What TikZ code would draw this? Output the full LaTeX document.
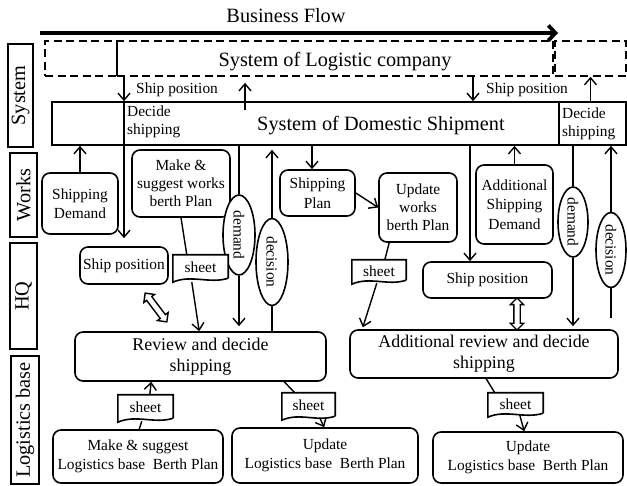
\documentclass[tikz,border=0pt]{standalone}
\usepackage{fontspec}
\setmainfont{Liberation Serif}
\usetikzlibrary{arrows.meta,shapes.geometric,shapes.arrows,calc}
\newcommand\myfs{\fontsize{15.4}{19.5}\selectfont}
\newcommand\myfst{\fontsize{15.4}{18}\selectfont}
\newcommand\myfm{\fontsize{17.9}{21}\selectfont}
\newcommand\myfl{\fontsize{20.3}{24}\selectfont}
\begin{document}
\begin{tikzpicture}[x=1pt,y=-1pt,
  box/.style={draw, line width=1.6pt, rounded corners=8pt, align=center, inner sep=0pt, font=\myfs, fill=white},
  sheetn/.style={inner sep=0pt, font=\myfs, fill=white},
  oval/.style={draw, ellipse, line width=1.6pt, inner sep=0pt, font=\myfs, fill=white},
  lane/.style={draw, line width=1.7pt, inner sep=0pt, font=\myfl},
  dbox/.style={draw, line width=1.6pt, dash pattern=on 8pt off 4.5pt, inner sep=0pt},
  lbl/.style={inner sep=0pt, font=\myfs},
  con/.style={line width=1.4pt},
  arr/.style={con, -{Straight Barb[length=7pt,width=12pt]}},
  hollow/.style={draw, double arrow, line width=1.4pt, fill=white, inner sep=2.5pt, double arrow head extend=3.5pt}
]
\useasboundingbox (0,0) rectangle (627,486);

% business flow
\node[font=\myfl, anchor=base, inner sep=0pt] (bft) at (286,23) {Business Flow};
\coordinate (bfs) at (40,33);
\coordinate (bfe) at (558,33);
\draw[line width=3.8pt,-{Straight Barb[length=7pt,width=15pt]}] (bfs) -- (bfe);

% lanes
\node[lane, minimum width=25pt, minimum height=103pt] (lsys) at (20.5,95.5) {\rotatebox{90}{System}};
\node[lane, minimum width=27pt, minimum height=84pt] (lwrk) at (23.5,195) {\rotatebox{90}{Works}};
\node[lane, minimum width=27pt, minimum height=106pt] (lhq) at (23.5,296) {\rotatebox{90}{HQ}};
\node[lane, minimum width=28pt, minimum height=128pt] (llog) at (25,420) {\rotatebox{90}{Logistics base}};

% logistic company system (dashed)
\node[dbox, minimum width=72pt, minimum height=35pt] (lcA) at (81,58.5) {};
\node[dbox, minimum width=436pt, minimum height=35pt] (lcB) at (335,58.5) {};
\node[dbox, minimum width=71pt, minimum height=35pt] (lcC) at (590.5,58.5) {};
\node[font=\myfl, anchor=base, inner sep=0pt] (lcT) at (335,67) {System of Logistic company};

% domestic shipment system
\node[draw, line width=1.6pt, minimum width=574pt, minimum height=43pt, inner sep=0pt] (ds) at (339,123.5) {};
\node[font=\myfl, anchor=base, inner sep=0pt] (dsT) at (381,131) {System of Domestic Shipment};
\draw[line width=1.6pt] ($(ds.north east)+(-68,0)$) -- ($(ds.south east)+(-68,0)$);

\node[lbl, anchor=base west] (spl1) at (136,94) {Ship position};
\node[lbl, anchor=base west] (dl1) at (127,117) {Decide};
\node[lbl, anchor=base west] (dl2) at (127,135) {shipping};
\node[lbl, anchor=base west] (spl2) at (486,94) {Ship position};
\node[lbl, anchor=base west] (dl3) at (562,119) {Decide};
\node[lbl, anchor=base west] (dl4) at (562,137) {shipping};

% works lane
\node[box, minimum width=76pt, minimum height=61pt] (sd) at (80,203.5) {Shipping\\Demand};
\node[box, minimum width=98pt, minimum height=67pt, font=\myfst] (mk) at (181,183.5) {Make \&\\suggest works\\berth Plan};
\node[oval, minimum width=32pt, minimum height=80pt] (dem1) at (239,235) {\rotatebox{-90}{demand}};
\node[oval, minimum width=32pt, minimum height=87pt] (dec1) at (272,262) {\rotatebox{-90}{decision}};
\node[box, minimum width=75pt, minimum height=46pt] (sp) at (317.5,193) {Shipping\\Plan};
\node[box, minimum width=78pt, minimum height=69pt, font=\myfst] (uw) at (418,207.5) {Update\\works\\berth Plan};
\node[box, minimum width=77pt, minimum height=79pt] (asd) at (514.5,204.5) {Additional\\Shipping\\Demand};
\node[oval, minimum width=30pt, minimum height=70pt] (dem2) at (573,222) {\rotatebox{-90}{demand}};
\node[oval, minimum width=30pt, minimum height=75pt] (dec2) at (611,250) {\rotatebox{-90}{decision}};

% HQ lane
\node[box, minimum width=88pt, minimum height=37pt] (shp1) at (124,265.5) {Ship position};
\node[sheetn, minimum width=55pt, minimum height=25pt] (sh1) at (200.5,267.5) {sheet};
\node[sheetn, minimum width=54pt, minimum height=22pt] (sh2) at (379,271) {sheet};
\node[box, minimum width=129pt, minimum height=36pt] (shp2) at (487.5,280) {Ship position};
\node[box, minimum width=251pt, minimum height=49pt, font=\myfm] (rv) at (200.5,356.5) {Review and decide\\shipping};
\node[box, minimum width=268pt, minimum height=48pt, font=\myfm] (rv2) at (484,354) {Additional review and decide\\shipping};
\node[hollow, minimum height=36pt, rotate=-53] (dh1) at (156,307.5) {};
\node[hollow, minimum height=32pt, rotate=90] (dh2) at (517,314) {};

% logistics base lane
\node[sheetn, minimum width=55pt, minimum height=25pt] (sh3) at (145.5,407.5) {sheet};
\node[sheetn, minimum width=53pt, minimum height=25pt] (sh4) at (308.5,405.5) {sheet};
\node[sheetn, minimum width=55pt, minimum height=22pt] (sh5) at (515.5,404) {sheet};
\node[box, minimum width=170pt, minimum height=53pt] (mkl) at (138,456.5) {Make \& suggest\\Logistics base\ \ Berth Plan};
\node[box, minimum width=186pt, minimum height=55pt] (up1) at (325,455.5) {Update\\Logistics base\ \ Berth Plan};
\node[box, minimum width=190pt, minimum height=51pt] (up2) at (528,457.5) {Update\\Logistics base\ \ Berth Plan};

% sheet outlines
\foreach \s in {sh1,sh2,sh3,sh4,sh5}
  \draw[line width=1.6pt] ($(\s.south east)+(0,-2)$) -- (\s.north east) -- (\s.north west) -- ($(\s.south west)+(0,2)$) .. controls +(18,-8) and +(-18,6) .. ($(\s.south east)+(0,-2)$);

% system-level connectors
\draw[arr] (lcB.south -| shp1.north) -- (ds.north -| shp1.north);
\draw[arr, shorten >=8pt] (ds.north -| shp1.north) -- (shp1.north);
\coordinate (ua) at (245,110);
\draw[arr, shorten >=6pt] (ua) -- (lcB.south -| ua);
\coordinate (da) at (473,0);
\draw[arr] (lcB.south -| da) -- (ds.north -| da);
\draw[arr] (ds.north -| lcC.south) -- (lcC.south);

% works connectors
\draw[arr] (sd.north) -- (ds.south -| sd.north);
\draw[con] (ds.south -| dem1.north) -- (dem1.north);
\draw[arr, shorten >=5pt] (dem1.south) -- (rv.north -| dem1.south);
\draw[con] (rv.north -| dec1.south) -- (dec1.south);
\draw[arr, shorten >=4pt] (dec1.north) -- (ds.south -| dec1.north);
\draw[con] (mk.south) -- ($(sh1.north west)+(14,0)$);
\draw[arr] ($(sh1.south west)+(19,2)$) -- ($(rv.north west)+(125,0)$);
\coordinate (sa) at (312,0);
\draw[arr] (ds.south -| sa) -- (sp.north -| sa);
\draw[arr] (sp.east) -- (uw.west);
\draw[con] ($(uw.south west)+(11,0)$) -- ($(sh2.north west)+(33,0)$);
\draw[arr, shorten >=2pt] ($(sh2.south west)+(25,1)$) -- ($(rv2.north west)+(13,0)$);
\coordinate (vb) at (470,0);
\draw[arr] (ds.south -| vb) -- (shp2.north -| vb);
\draw[arr] (asd.north) -- (ds.south -| asd.north);
\draw[con] (ds.south -| dem2.north) -- (dem2.north);
\draw[arr, shorten >=3pt] (dem2.south) -- (rv2.north -| dem2.south);
\coordinate (dcb) at (611,318);
\draw[con] (dcb) -- (dec2.south);
\draw[arr] (dec2.north) -- (ds.south -| dec2.north);

% logistics connectors
\draw[con] ($(mkl.north west)+(87,0)$) -- ($(sh3.south west)+(24,1)$);
\draw[arr] ($(sh3.north west)+(32,0)$) -- ($(rv.south west)+(77,0)$);
\draw[con] ($(rv.south west)+(210,0)$) -- ($(sh4.north west)+(13,0)$);
\draw[arr] ($(sh4.south west)+(38,0)$) -- ($(up1.north west)+(93,0)$);
\draw[con] ($(rv2.south west)+(137,0)$) -- ($(sh5.north west)+(7,0)$);
\draw[arr] ($(sh5.south west)+(32,0)$) -- ($(up2.north west)+(92,0)$);
\end{tikzpicture}
\end{document}
